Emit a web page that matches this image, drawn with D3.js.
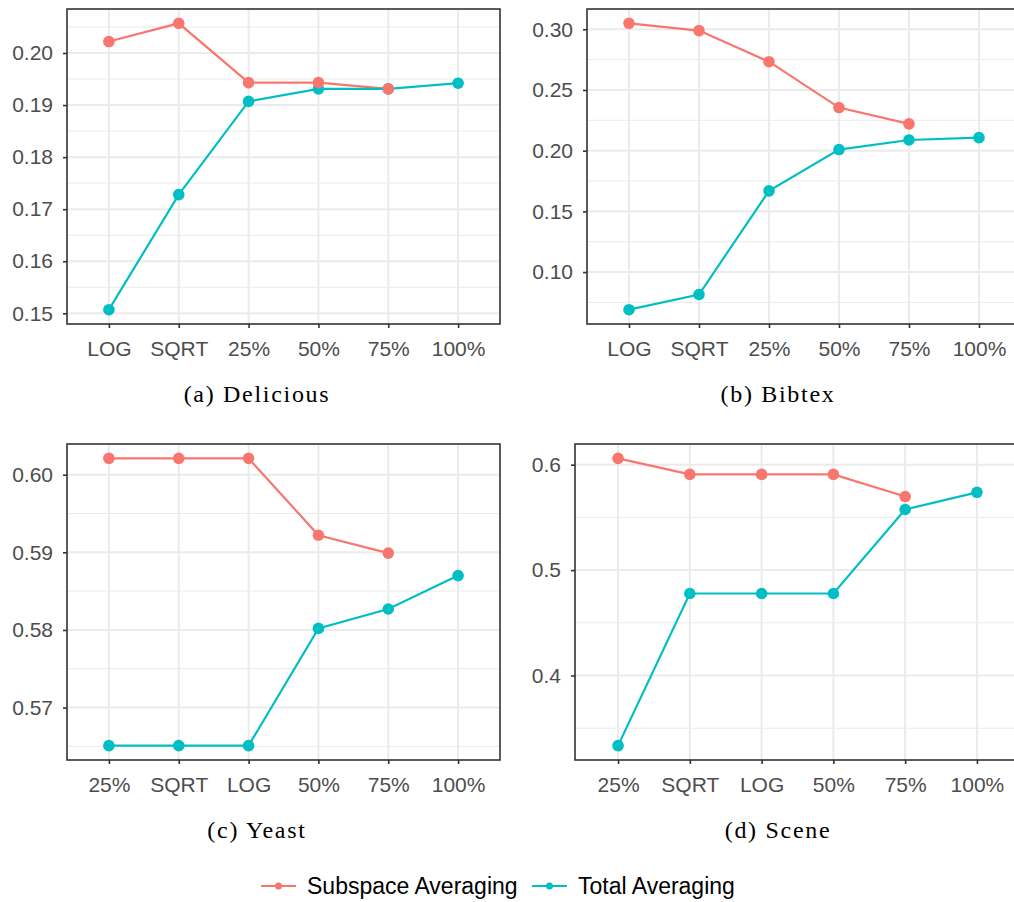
<!doctype html>
<html lang="en">
<head>
<meta charset="utf-8">
<title>Averaging comparison</title>
<script src="https://cdn.jsdelivr.net/npm/d3@7"></script>
<style>
  body { margin: 0; background: #fff; }
  svg { display: block; }
  .tick-label { font-family: "Liberation Sans", Arial, sans-serif; font-size: 21px; fill: #4d4d4d; }
  .caption { font-family: "Liberation Serif", "Times New Roman", serif; font-size: 24px; letter-spacing: 1.7px; fill: #000; }
  .legend-text { font-family: "Liberation Sans", Arial, sans-serif; font-size: 23px; fill: #000; }
</style>
</head>
<body>
<script>
// series names
var seriesNames = ["Subspace Averaging", "Total Averaging"];
var seriesColors = ["#F8766D", "#00BFC4"];

// (a) Delicious
var catsA = ["LOG", "SQRT", "25%", "50%", "75%", "100%"];
var subA = [0.2022, 0.2057, 0.1943, 0.1943, 0.1931, null];
var totA = [0.1507, 0.1728, 0.1907, 0.1931, 0.1931, 0.1942];
var ticksA = [0.15, 0.16, 0.17, 0.18, 0.19, 0.20];

// (b) Bibtex
var catsB = ["LOG", "SQRT", "25%", "50%", "75%", "100%"];
var subB = [0.3049, 0.2989, 0.2733, 0.2355, 0.2221, null];
var totB = [0.0690, 0.0815, 0.1669, 0.2009, 0.2088, 0.2107];
var ticksB = [0.10, 0.15, 0.20, 0.25, 0.30];

// (c) Yeast
var catsC = ["25%", "SQRT", "LOG", "50%", "75%", "100%"];
var subC = [0.6021, 0.6021, 0.6021, 0.5922, 0.5899, null];
var totC = [0.5651, 0.5651, 0.5651, 0.5802, 0.5827, 0.5870];
var ticksC = [0.57, 0.58, 0.59, 0.60];

// (d) Scene
var catsD = ["25%", "SQRT", "LOG", "50%", "75%", "100%"];
var subD = [0.6060, 0.5908, 0.5908, 0.5908, 0.5698, null];
var totD = [0.3335, 0.4778, 0.4778, 0.4778, 0.5575, 0.5738];
var ticksD = [0.4, 0.5, 0.6];

var W = 1014, H = 902;

var svg = d3.select("body").append("svg")
    .attr("width", W)
    .attr("height", H);

svg.append("rect").attr("width", W).attr("height", H).attr("fill", "#fff");

function panel(box, cats, sub, tot, ticks, fmt, caption, capX, capY) {
    var x = d3.scalePoint()
              .domain(cats)
              .range([box.left, box.right])
              .padding(0.6);

    var all = sub.concat(tot).filter(v => v != null);
    var lo = d3.min(all), hi = d3.max(all);
    var pad = (hi - lo) * 0.05;
    var y = d3.scaleLinear()
              .domain([lo - pad, hi + pad])
              .range([box.bottom, box.top]);

    var g = svg.append("g");

    // minor grid at midpoints of major ticks
    var step = ticks[1] - ticks[0];
    var minor = [ticks[0] - step / 2].concat(ticks.map(t => t + step / 2))
                 .filter(v => v > y.domain()[0] && v < y.domain()[1]);

    g.selectAll(".minor")
     .data(minor)
     .enter()
     .append("line")
     .attr("x1", box.left).attr("x2", box.right)
     .attr("y1", d => y(d)).attr("y2", d => y(d))
     .attr("stroke", "#ebebeb")
     .attr("stroke-width", 1);

    g.selectAll(".major")
     .data(ticks)
     .enter()
     .append("line")
     .attr("x1", box.left).attr("x2", box.right)
     .attr("y1", d => y(d)).attr("y2", d => y(d))
     .attr("stroke", "#ebebeb")
     .attr("stroke-width", 2);

    g.selectAll(".vgrid")
     .data(cats)
     .enter()
     .append("line")
     .attr("x1", d => x(d)).attr("x2", d => x(d))
     .attr("y1", box.top).attr("y2", box.bottom)
     .attr("stroke", "#ebebeb")
     .attr("stroke-width", 2);

    var series = [sub, tot];
    var line = d3.line()
                 .defined(d => d.v != null)
                 .x(d => x(d.c))
                 .y(d => y(d.v));

    series.forEach(function(vals, i) {
        var pts = cats.map((c, j) => ({c: c, v: vals[j]}));
        g.append("path")
         .datum(pts)
         .attr("d", line)
         .attr("fill", "none")
         .attr("stroke", seriesColors[i])
         .attr("stroke-width", 2.2);
    });

    [1, 0].forEach(function(i) {
        var pts = cats.map((c, j) => ({c: c, v: series[i][j]})).filter(d => d.v != null);
        g.selectAll(".pt" + i)
         .data(pts)
         .enter()
         .append("circle")
         .attr("cx", d => x(d.c))
         .attr("cy", d => y(d.v))
         .attr("r", 5.8)
         .attr("fill", seriesColors[i]);
    });

    // panel border
    g.append("rect")
     .attr("x", box.left).attr("y", box.top)
     .attr("width", box.right - box.left)
     .attr("height", box.bottom - box.top)
     .attr("fill", "none")
     .attr("stroke", "#333")
     .attr("stroke-width", 1.6);

    var xAxis = d3.axisBottom(x).tickSize(4).tickPadding(8);
    var yAxis = d3.axisLeft(y).tickValues(ticks).tickFormat(d3.format(fmt)).tickSize(4).tickPadding(10);

    var gx = g.append("g")
              .attr("transform", "translate(0," + box.bottom + ")")
              .call(xAxis);
    var gy = g.append("g")
              .attr("transform", "translate(" + box.left + ",0)")
              .call(yAxis);

    [gx, gy].forEach(function(a) {
        a.select(".domain").remove();
        a.selectAll(".tick line").attr("stroke", "#333").attr("stroke-width", 1.6);
        a.selectAll(".tick text")
         .attr("class", "tick-label")
         .attr("fill", null)
         .attr("font-family", null)
         .attr("font-size", null);
    });
    gx.selectAll(".tick text").attr("dy", "0.95em");

    svg.append("text")
       .attr("class", "caption")
       .attr("x", capX)
       .attr("y", capY)
       .attr("text-anchor", "middle")
       .text(caption);
}

panel({left: 67, right: 500, top: 9, bottom: 324}, catsA, subA, totA, ticksA, ".2f", "(a) Delicious", 257, 402);
panel({left: 587, right: 1021, top: 9, bottom: 324}, catsB, subB, totB, ticksB, ".2f", "(b) Bibtex", 778, 402);
panel({left: 67, right: 500, top: 444, bottom: 760}, catsC, subC, totC, ticksC, ".2f", "(c) Yeast", 257, 838);
panel({left: 575, right: 1020, top: 444, bottom: 760}, catsD, subD, totD, ticksD, ".1f", "(d) Scene", 778, 838);

// legend
var legend = svg.append("g").attr("transform", "translate(0,886)");
var legendX = [261, 532];
seriesNames.forEach(function(name, i) {
    var lg = legend.append("g").attr("transform", "translate(" + legendX[i] + ",0)");
    lg.append("line")
      .attr("x1", 0).attr("x2", 35)
      .attr("y1", 0).attr("y2", 0)
      .attr("stroke", seriesColors[i])
      .attr("stroke-width", 2.2);
    lg.append("circle")
      .attr("cx", 17.5).attr("cy", 0)
      .attr("r", 3.5)
      .attr("fill", seriesColors[i]);
    lg.append("text")
      .attr("class", "legend-text")
      .attr("x", 46)
      .attr("y", 0)
      .attr("dy", "0.36em")
      .text(name);
});
</script>
</body>
</html>
